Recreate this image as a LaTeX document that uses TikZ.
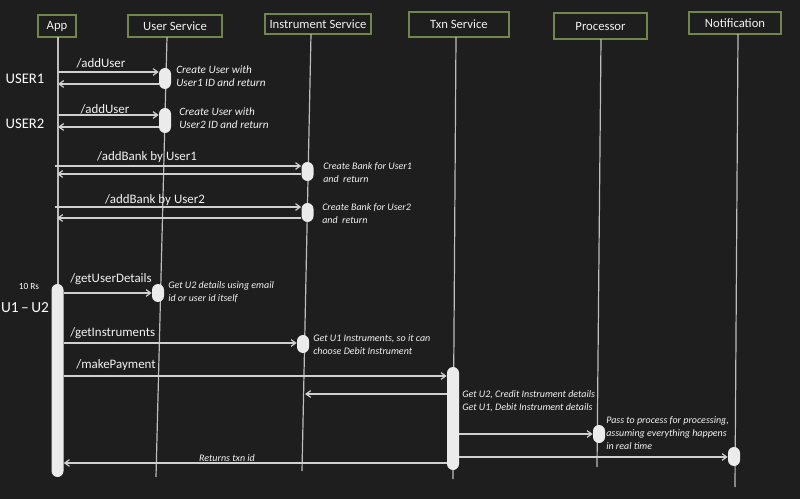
\documentclass[tikz,border=0pt]{standalone}
\usepackage{fontspec}
\setmainfont{Carlito}
\usetikzlibrary{arrows.meta}
\definecolor{bg}{HTML}{1F1E1E}
\definecolor{boxgreen}{HTML}{6F874B}
\definecolor{linegray}{HTML}{BDBDBD}
\definecolor{arrowgray}{HTML}{D0D0D0}
\definecolor{actfill}{HTML}{EBEBEB}
\definecolor{txt}{HTML}{F2F2F2}
\begin{document}
\begin{tikzpicture}[x=0.75pt,y=-0.75pt,
  hdr/.style={draw=boxgreen, line width=1.2pt, fill=bg, text=txt, inner sep=0pt,
    font=\fontsize{9.5}{11}\selectfont},
  life/.style={draw=linegray, line width=0.9pt},
  act/.style={fill=actfill, draw=none, rounded corners=4.5pt, minimum width=9pt, inner sep=0pt},
  msg/.style={draw=arrowgray, line width=0.9pt, -{Straight Barb[length=3.5pt,width=5pt]}},
  lbl/.style={text=txt, inner sep=0pt, font=\fontsize{9.7}{11}\selectfont},
  note/.style={text=txt, inner sep=0pt, anchor=west, align=left,
    font=\fontsize{7.5}{9.75}\selectfont\itshape},
  bignote/.style={note, font=\fontsize{8.4}{9.75}\selectfont\itshape},
  hand/.style={text=white, inner sep=0pt}
]
\fill[bg] (0,0) rectangle (800,499);
\useasboundingbox (0,0) rectangle (800,499);

% headers
\node[hdr, minimum width=28.5pt, minimum height=16.5pt] (hApp) at (57,26) {App};
\node[hdr, minimum width=70.5pt, minimum height=16.5pt] (hUS) at (175,26) {User Service};
\node[hdr, minimum width=79.5pt, minimum height=15pt] (hIS) at (318,24) {Instrument Service};
\node[hdr, minimum width=75pt, minimum height=18.75pt] (hTS) at (459,24.5) {Txn Service};
\node[hdr, minimum width=69.75pt, minimum height=19.5pt] (hPR) at (600.5,26) {Processor};
\node[hdr, minimum width=69pt, minimum height=16.5pt] (hNO) at (735,23) {Notification};

% lifeline ends
\coordinate (appT) at (58,37);   \coordinate (appB) at (58,477);
\coordinate (usT) at (167,37);   \coordinate (usB) at (156,477);
\coordinate (isT) at (311,34);   \coordinate (isB) at (302,471);
\coordinate (tsT) at (456,37);   \coordinate (tsB) at (453,479);
\coordinate (prT) at (601,39);   \coordinate (prB) at (597,467);
\coordinate (noT) at (738,34);   \coordinate (noB) at (735,487);
\draw[life] (appT) -- (appB);
\draw[life] (usT) -- (usB);
\draw[life] (isT) -- (isB);
\draw[life] (tsT) -- (tsB);
\draw[life] (prT) -- (prB);
\draw[life] (noT) -- (noB);

% activations
\node[act, minimum height=15.75pt] (a1) at (165,78.5) {};
\node[act, minimum height=18.75pt] (a2) at (165,120.5) {};
\node[act, minimum height=14.25pt] (a3) at (307.5,171.5) {};
\node[act, minimum height=14.25pt] (a4) at (307.5,212.5) {};
\node[act, minimum height=144.75pt] (a5) at (57.5,380.5) {};
\node[act, minimum height=13.5pt] (a6) at (158,293) {};
\node[act, minimum height=13.5pt] (a7) at (303,344) {};
\node[act, minimum height=77.25pt] (a8) at (453,418.5) {};
\node[act, minimum height=13.5pt] (a9) at (599,434) {};
\node[act, minimum height=14.25pt] (a10) at (734,456.5) {};

% message y-levels
\coordinate (m1) at (58,72);   \coordinate (r1) at (58,84);
\coordinate (m2) at (58,115);  \coordinate (r2) at (58,127);
\coordinate (m3) at (55,166);  \coordinate (r3) at (57,174);
\coordinate (m4) at (55,207);  \coordinate (r4) at (57,218);
\coordinate (m5) at (0,293);
\coordinate (m6) at (0,343);
\coordinate (m7) at (0,376);
\coordinate (r5s) at (0,394);  \coordinate (r5e) at (305,394);
\coordinate (m8) at (0,434);
\coordinate (m9) at (0,457);
\coordinate (r6) at (0,463);

\draw[msg] (m1) -- (m1 -| a1.west);
\draw[msg] (r1 -| a1.west) -- (r1);
\draw[msg] (m2) -- (m2 -| a2.west);
\draw[msg] (r2 -| a2.west) -- (r2);
\draw[msg] (m3) -- (m3 -| a3.west);
\draw[msg] (r3 -| a3.west) -- (r3);
\draw[msg] (m4) -- (m4 -| a4.west);
\draw[msg] (r4 -| a4.west) -- (r4);
\draw[msg] (m5 -| a5.east) -- (m5 -| a6.west);
\draw[msg] (m6 -| a5.east) -- (m6 -| a7.west);
\draw[msg] (m7 -| a5.east) -- (m7 -| a8.west);
\draw[msg] (r5s -| a8.west) -- (r5e);
\draw[msg] (m8 -| a8.east) -- (m8 -| a9.west);
\draw[msg] (m9 -| a8.east) -- (m9 -| a10.west);
\draw[msg] (r6 -| a8.west) -- (r6 -| a5.east);

% message labels
\node[lbl] (l1) at (101,63) {/addUser};
\node[lbl] (l2) at (105,109) {/addUser};
\node[lbl] (l3) at (147,157) {/addBank by User1};
\node[lbl] (l4) at (155,200) {/addBank by User2};
\node[lbl, anchor=west] (l5) at (70,279) {/getUserDetails};
\node[lbl, anchor=west] (l6) at (70,333) {/getInstruments};
\node[lbl, anchor=west] (l7) at (76,365) {/makePayment};
\node[note, anchor=center] (l8) at (227,458) {Returns txn id};

% notes
\node[bignote] (n1) at (176,76.5) {Create User with\\User1 ID and return};
\node[bignote] (n2) at (179,118.5) {Create User with\\User2 ID and return};
\node[note] (n3) at (323,172.5) {Create Bank for User1\\and\ \ return};
\node[note] (n4) at (322,213.5) {Create Bank for User2\\and\ \ return};
\node[note] (n5) at (168,292) {Get U2 details using email\\id or user id itself};
\node[note] (n6) at (313,344.5) {Get U1 Instruments, so it can\\choose Debit Instrument};
\node[note] (n7) at (462,401.5) {Get U2, Credit Instrument details\\Get U1, Debit Instrument details};
\node[note] (n8) at (606,433.5) {Pass to process for processing,\\assuming everything happens\\in real time};

% handwritten annotations
\node[hand, font=\fontsize{11}{12}\selectfont] (h1) at (25,79) {USER1};
\node[hand, font=\fontsize{11}{12}\selectfont] (h2) at (25,124) {USER2};
\node[hand, font=\fontsize{7}{8}\selectfont] (h3) at (29,287) {10 Rs};
\node[hand, font=\fontsize{11.5}{13}\selectfont] (h4) at (25,308) {U1\,–\,U2};
\end{tikzpicture}
\end{document}
